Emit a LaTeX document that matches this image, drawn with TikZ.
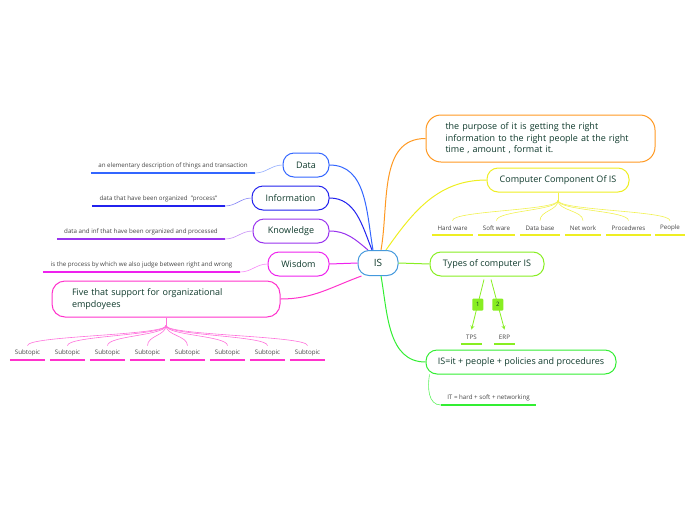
\documentclass[tikz,border=0pt]{standalone}
\usepackage{fontspec}
\setmainfont{Open Sans}
\usepackage{xcolor}
\usetikzlibrary{arrows, calc, positioning}

\definecolor{istext}{HTML}{0F3A2C}
\definecolor{notetext}{HTML}{444444}
\definecolor{isblue}{HTML}{4499DD}
\definecolor{datablue}{HTML}{3366FF}
\definecolor{infoblue}{HTML}{2222EE}
\definecolor{knowpurple}{HTML}{9933EE}
\definecolor{wismagenta}{HTML}{EE22EE}
\definecolor{fivepink}{HTML}{FF33CC}
\definecolor{purporange}{HTML}{FF9922}
\definecolor{compyellow}{HTML}{EEEE22}
\definecolor{typesgreen}{HTML}{88EE22}
\definecolor{iseqgreen}{HTML}{33EE33}

\begin{document}
\begin{tikzpicture}[x=1pt, y=-1pt,
    topic/.style={draw=#1, line width=1pt, rounded corners=11pt, fill=white,
        text=istext, font=\fontsize{9}{11.5}\selectfont, minimum height=24pt, inner xsep=0pt},
    note/.style={text=notetext, font=\fontsize{6.2}{7.5}\selectfont, minimum height=14pt,
        inner sep=0pt, anchor=south},
    branch/.style={draw=#1, line width=1pt},
    uline/.style={draw=#1, line width=1.5pt},
    thinlink/.style={draw=#1!55, line width=0.6pt},
    numbox/.style={fill=typesgreen, rounded corners=1pt, minimum width=11pt, minimum height=12pt,
        inner sep=0pt, text=istext, font=\fontsize{6}{7}\selectfont}]
    \useasboundingbox (0, 0) rectangle (696, 520);

    % centre
    \node[topic=isblue, minimum width=40pt, minimum height=25pt, font=\fontsize{10}{12}\selectfont] (is) at (378, 263) {IS};

    % left side
    \node[topic=datablue, minimum width=46pt] (data) at (306, 165) {Data};
    \node[topic=infoblue, minimum width=77pt] (info) at (290.5, 198) {Information};
    \node[topic=knowpurple, minimum width=76pt] (know) at (291, 231) {Knowledge};
    \node[topic=wismagenta, minimum width=61pt] (wis) at (298.5, 264) {Wisdom};
    \node[topic=fivepink, minimum width=228pt, minimum height=36pt, rounded corners=13pt,
        align=left, text width=188pt, inner xsep=20pt] (five) at (166, 299)
        {Five that support for organizational\\empdoyees};

    \node[note, minimum width=164pt] (datanote) at (173, 173) {an elementary description of things and transaction};
    \node[note, minimum width=133pt] (infonote) at (158.5, 206) {data that have been organized ~"process"};
    \node[note, minimum width=168pt] (knownote) at (141, 239) {data and inf that have been organized and processed};
    \node[note, minimum width=197pt] (wisnote) at (141.5, 272) {is the process by which we also judge between right and wrong};

    \draw[branch=datablue] ([xshift=-5pt]is.north) to[out=100, in=0] (data.east);
    \draw[branch=infoblue] ([xshift=-6pt]is.north) to[out=112, in=0] (info.east);
    \draw[branch=knowpurple] ([xshift=-10pt]is.north) to[out=140, in=0] (know.east);
    \draw[branch=wismagenta] (is.west) -- (wis.east);
    \draw[branch=fivepink] ([xshift=4pt]is.south west) to[out=200, in=0] (five.east);

    \foreach \n/\c in {data/datablue, info/infoblue, know/knowpurple, wis/wismagenta} {
        \draw[uline=\c] (\n note.south west) -- (\n note.south east);
        \draw[thinlink=\c] (\n.west) to[out=180, in=0] (\n note.south east);
    }

    \coordinate (fivefan) at ([yshift=-8pt]five.south);
    \draw[thinlink=fivepink, draw=fivepink!70] (five.south) -- (fivefan);
    \foreach \i in {0, ..., 7} {
        \node[note, minimum width=35pt] (sub\i) at (27.5 + 40 * \i, 360) {Subtopic};
        \draw[uline=fivepink] (sub\i.south west) -- (sub\i.south east);
        \draw[thinlink=fivepink, draw=fivepink!70] (fivefan) .. controls +(0, 10) and +(0, -10) .. (sub\i.north);
    }

    % right side
    \node[topic=purporange, minimum width=229pt, minimum height=47pt, rounded corners=15pt,
        align=left, text width=190pt, inner xsep=19.5pt] (purpose) at (540.5, 138.5)
        {the purpose of it is getting the right\\information to the right people at the right\\time , amount , format it.};
    \node[topic=compyellow, minimum width=142pt] (comp) at (558, 180) {Computer Component Of IS};
    \node[topic=typesgreen, minimum width=114pt] (types) at (487, 264) {Types of computer IS};
    \node[topic=iseqgreen, minimum width=190pt] (iseq) at (521, 362) {IS=it + people + policies and procedures};

    \draw[branch=purporange] ([xshift=3pt]is.north) to[out=80, in=180] (purpose.west);
    \draw[branch=compyellow] ([xshift=8pt]is.north) to[out=55, in=180] (comp.west);
    \draw[branch=typesgreen] (is.east) -- (types.west);
    \draw[branch=iseqgreen] ([xshift=3pt]is.south) to[out=-80, in=180] (iseq.west);

    \coordinate (compfan) at ([yshift=-8pt]comp.south);
    \draw[thinlink=compyellow, draw=compyellow!80] (comp.south) -- (compfan);
    \foreach \name/\x/\w [count=\i] in {Hard ware/452.5/41, Soft ware/496.5/37, Data base/540/40,
        Net work/583/36, Procedwres/628.5/45, People/670/30} {
        \node[note, minimum width=\w pt] (part\i) at (\x, 235) {\name};
        \draw[uline=compyellow] (part\i.south west) -- (part\i.south east);
        \draw[thinlink=compyellow, draw=compyellow!80] (compfan) .. controls +(0, 10) and +(0, -10) .. (part\i.north);
    }

    \node[note, minimum width=21pt] (tps) at (471.5, 344) {TPS};
    \node[note, minimum width=21pt] (erp) at (504.5, 344) {ERP};
    \draw[uline=typesgreen] (tps.south west) -- (tps.south east);
    \draw[uline=typesgreen] (erp.south west) -- (erp.south east);
    \draw[draw=typesgreen, line width=0.8pt, -stealth] ([xshift=-3pt, yshift=-3pt]types.south) -- (tps.north)
        node[numbox, midway] (one) {1};
    \draw[draw=typesgreen, line width=0.8pt, -stealth] ([xshift=4pt, yshift=-3pt]types.south) -- (erp.north)
        node[numbox, midway] (two) {2};

    \node[note, minimum width=95pt] (itnote) at (488.5, 405) {IT = hard + soft + networking};
    \draw[uline=iseqgreen] (itnote.south west) -- (itnote.south east);
    \draw[thinlink=iseqgreen, draw=iseqgreen!80] ([xshift=4pt]iseq.south west) to[out=-100, in=180] (itnote.south west);
\end{tikzpicture}
\end{document}
